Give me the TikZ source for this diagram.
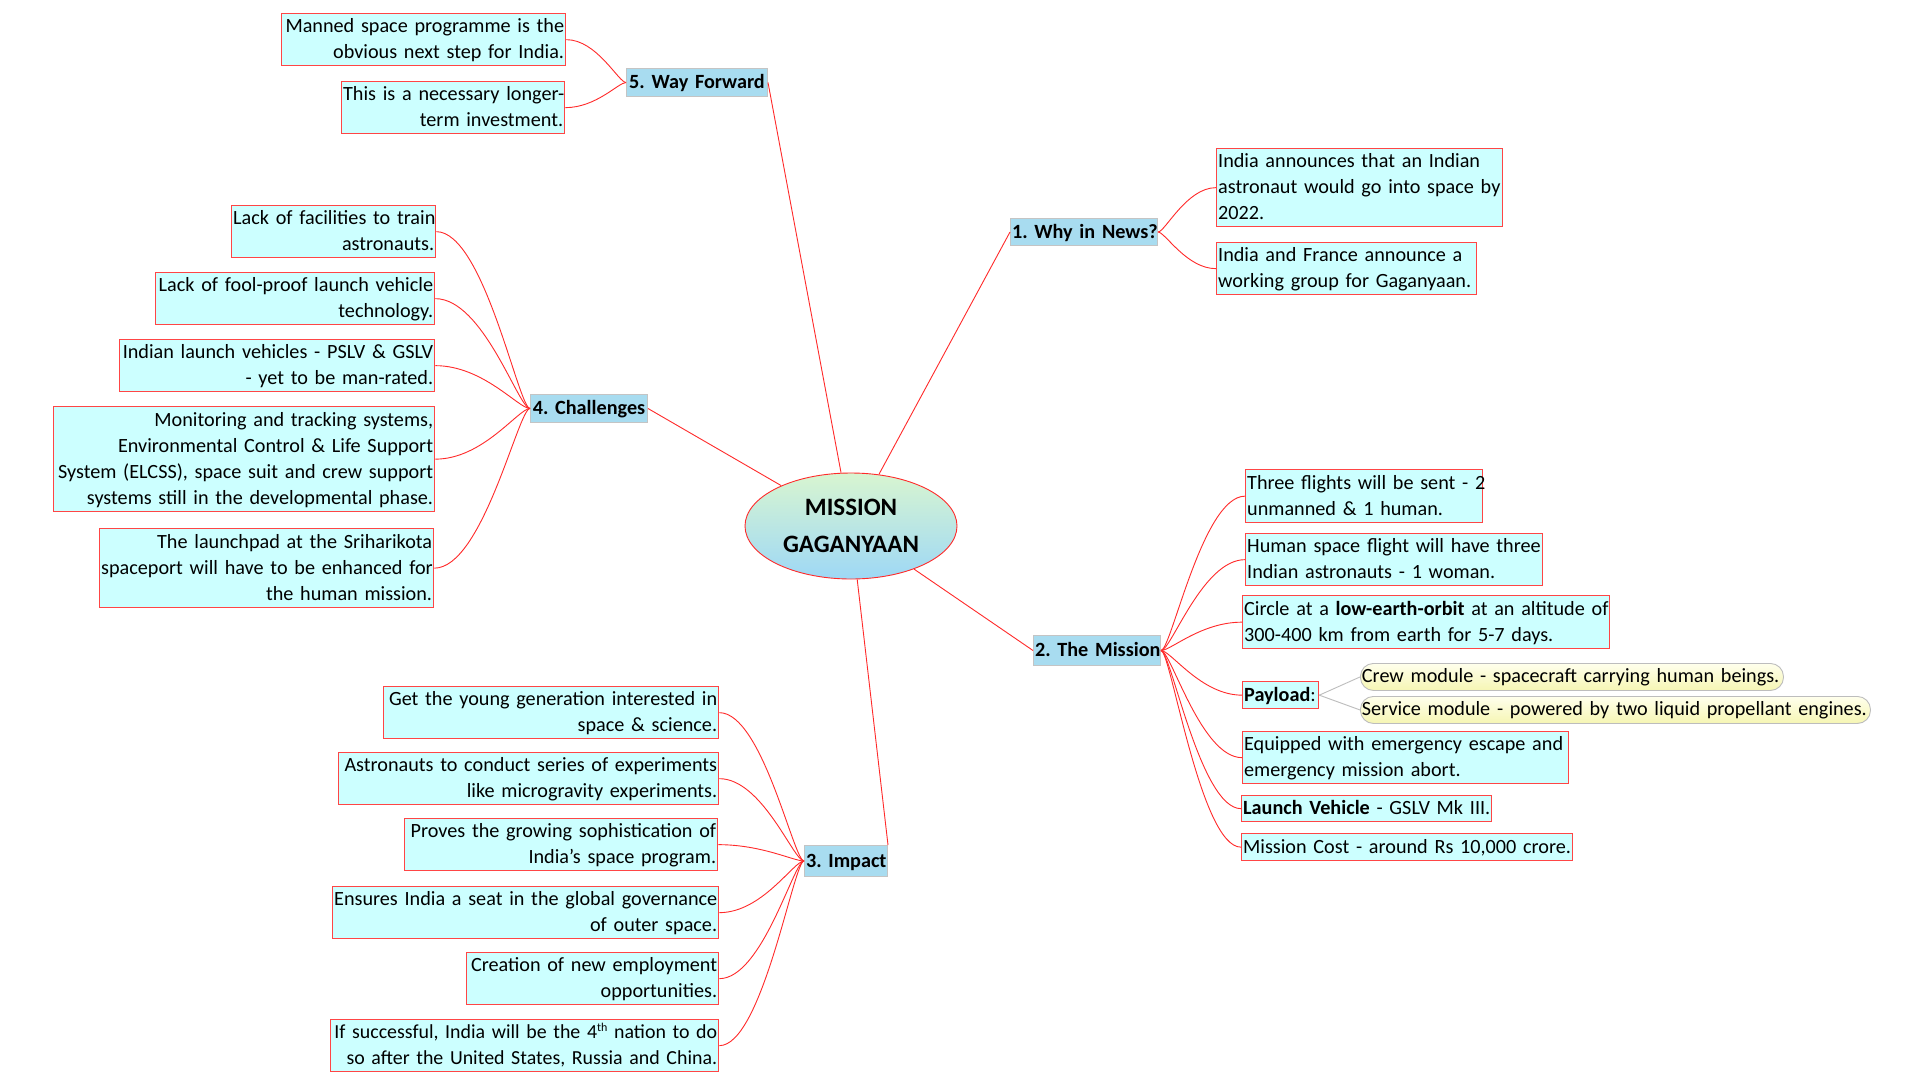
\documentclass[tikz,border=0pt]{standalone}
\usepackage{fontspec}
\setmainfont{Carlito}
\usetikzlibrary{shapes.geometric,calc}
\definecolor{leafcyan}{HTML}{CCFFFF}
\definecolor{leafred}{HTML}{FF4545}
\definecolor{topicblue}{HTML}{A8DCF0}
\definecolor{topicgray}{HTML}{C4C4C4}
\definecolor{linered}{HTML}{FF2A2A}
\definecolor{roottop}{HTML}{D8F5D0}
\definecolor{rootbot}{HTML}{9ED8F6}
\definecolor{pilltop}{HTML}{FFFFEC}
\definecolor{pillbot}{HTML}{F6F6B4}
\definecolor{pillgray}{HTML}{BDBDBD}
\frenchspacing
\newcommand\fsz{\fontsize{20.2pt}{26pt}\selectfont\frenchspacing}
\newcommand\Lx[1]{\mbox{\rule[-7pt]{0pt}{26pt}#1}}
\newcommand\supth{\raisebox{7pt}{\fontsize{12pt}{13pt}\selectfont th}}
\newcommand\bx[7][leaf]{%
  \pgfmathsetmacro\lw{#5-#3}\pgfmathsetmacro\lh{#6-#4}\pgfmathsetmacro\ltw{#5-#3-3}%
  \node[#1, align=#7, text width=\ltw pt, minimum width=\lw pt, minimum height=\lh pt, anchor=north west] (#2) at (#3,#4)}
\newcommand\cv[3]{\draw[conn] (#1) .. controls +({0.12*(#3)},0) and +({-0.5*(#3)},0) .. (#2);}
\tikzset{
  leaf/.style={draw=leafred, fill=leafcyan, line width=1.3pt, inner xsep=1.5pt, inner ysep=0pt, font=\fsz},
  topic/.style={draw=topicgray, fill=topicblue, line width=1pt, inner xsep=1.5pt, inner ysep=0pt, font=\fsz\bfseries},
  pill/.style={draw=pillgray, top color=pilltop, bottom color=pillbot, rounded corners=13pt, line width=0.9pt, inner xsep=1.5pt, inner ysep=0pt, font=\fsz},
  conn/.style={draw=linered, line width=0.9pt},
  subconn/.style={draw=pillgray, line width=0.9pt}
}
\begin{document}
\begin{tikzpicture}[x=1pt,y=-1pt]
\fill[white] (0,0) rectangle (1924,1084);
\useasboundingbox (0,0) rectangle (1924,1084);

% root
\node[ellipse, draw=linered, line width=0.9pt, top color=roottop, bottom color=rootbot,
  minimum width=212pt, minimum height=106pt, inner sep=0pt, align=center,
  font=\fontsize{25pt}{37pt}\selectfont\bfseries] (root) at (851,526) {MISSION\\GAGANYAAN};

% topics
\bx[topic]{wf}{626}{68}{767}{96}{center}{\Lx{5. Way Forward}};
\bx[topic]{why}{1010}{218}{1157}{245}{center}{\Lx{1. Why in News?}};
\bx[topic]{chal}{530}{394}{647}{422}{center}{\Lx{4. Challenges}};
\bx[topic]{mis}{1033}{635}{1160}{665}{center}{\Lx{2. The Mission}};
\bx[topic]{imp}{804}{845}{887}{876}{center}{\Lx{3. Impact}};

% way forward leaves
\bx{wf1}{281}{13}{565}{65}{right}{\Lx{Manned space programme is the}\\\Lx{obvious next step for India.}};
\bx{wf2}{341}{81}{564}{133}{right}{\Lx{This is a necessary longer-}\\\Lx{term investment.}};

% challenges leaves
\bx{ch1}{231}{205}{435}{257}{right}{\Lx{Lack of facilities to train}\\\Lx{astronauts.}};
\bx{ch2}{155}{272}{434}{324}{right}{\Lx{Lack of fool-proof launch vehicle}\\\Lx{technology.}};
\bx{ch3}{119}{339}{434}{391}{right}{\Lx{Indian launch vehicles - PSLV \& GSLV}\\\Lx{- yet to be man-rated.}};
\bx{ch4}{53}{406}{434}{511}{right}{\Lx{Monitoring and tracking systems,}\\\Lx{Environmental Control \& Life Support}\\\Lx{System (ELCSS), space suit and crew support}\\\Lx{systems still in the developmental phase.}};
\bx{ch5}{99}{528}{433}{607}{right}{\Lx{The launchpad at the Sriharikota}\\\Lx{spaceport will have to be enhanced for}\\\Lx{the human mission.}};

% impact leaves
\bx{im1}{383}{686}{718}{738}{right}{\Lx{Get the young generation interested in}\\\Lx{space \& science.}};
\bx{im2}{338}{752}{718}{804}{right}{\Lx{Astronauts to conduct series of experiments}\\\Lx{like microgravity experiments.}};
\bx{im3}{404}{818}{717}{870}{right}{\Lx{Proves the growing sophistication of}\\\Lx{India’s space program.}};
\bx{im4}{332}{886}{718}{938}{right}{\Lx{Ensures India a seat in the global governance}\\\Lx{of outer space.}};
\bx{im5}{466}{952}{718}{1004}{right}{\Lx{Creation of new employment}\\\Lx{opportunities.}};
\bx[leaf, font=\fontsize{19.9pt}{26pt}\selectfont]{im6}{330}{1019}{718}{1071}{right}{\Lx{If successful, India will be the 4\supth{} nation to do}\\\Lx{so after the United States, Russia and China.}};

% why in news leaves
\bx{wn1}{1216}{148}{1502}{226}{left}{\Lx{India announces that an Indian}\\\Lx{astronaut would go into space by}\\\Lx{2022.}};
\bx{wn2}{1216}{242}{1476}{294}{left}{\Lx{India and France announce a}\\\Lx{working group for Gaganyaan.}};

% mission leaves
\bx{m1}{1245}{469}{1482}{522}{left}{\Lx{Three flights will be sent - 2}\\\Lx{unmanned \& 1 human.}};
\bx{m2}{1245}{533}{1542}{585}{left}{\Lx{Human space flight will have three}\\\Lx{Indian astronauts - 1 woman.}};
\bx{m3}{1242}{595}{1609}{648}{left}{\Lx{Circle at a \textbf{low-earth-orbit} at an altitude of}\\\Lx{300-400 km from earth for 5-7 days.}};
\bx{pay}{1242}{681}{1318}{708}{left}{\Lx{\textbf{Payload}:}};
\bx{m5}{1242}{731}{1568}{783}{left}{\Lx{Equipped with emergency escape and}\\\Lx{emergency mission abort.}};
\bx{m6}{1241}{795}{1491}{821}{left}{\Lx{\textbf{Launch Vehicle} - GSLV Mk III.}};
\bx{m7}{1241}{833}{1572}{860}{left}{\Lx{Mission Cost - around Rs 10,000 crore.}};
\bx[pill]{crew}{1360}{663}{1783}{690}{left}{\Lx{Crew module - spacecraft carrying human beings.}};
\bx[pill]{serv}{1360}{696}{1870}{723}{left}{\Lx{Service module - powered by two liquid propellant engines.}};

% main connectors
\draw[conn] (root) -- (wf.east);
\draw[conn] (root) -- (why.west);
\draw[conn] (root) -- (chal.east);
\draw[conn] (root) -- (mis.west);
\draw[conn] (root) -- (imp.north east);

% branch curves
\cv{wf.west}{wf1.east}{-61}
\cv{wf.west}{wf2.east}{-62}
\cv{chal.west}{ch1.east}{-95}
\cv{chal.west}{ch2.east}{-96}
\cv{chal.west}{ch3.east}{-96}
\cv{chal.west}{ch4.east}{-96}
\cv{chal.west}{ch5.east}{-97}
\cv{imp.west}{im1.east}{-86}
\cv{imp.west}{im2.east}{-86}
\cv{imp.west}{im3.east}{-87}
\cv{imp.west}{im4.east}{-86}
\cv{imp.west}{im5.east}{-86}
\cv{imp.west}{im6.east}{-86}
\cv{why.east}{wn1.west}{59}
\cv{why.east}{wn2.west}{59}
\cv{mis.east}{m1.west}{85}
\cv{mis.east}{m2.west}{85}
\cv{mis.east}{m3.west}{82}
\cv{mis.east}{pay.west}{82}
\cv{mis.east}{m5.west}{82}
\cv{mis.east}{m6.west}{81}
\cv{mis.east}{m7.west}{81}
\draw[subconn] (pay.east) -- (crew.west);
\draw[subconn] (pay.east) -- (serv.west);
\end{tikzpicture}
\end{document}
